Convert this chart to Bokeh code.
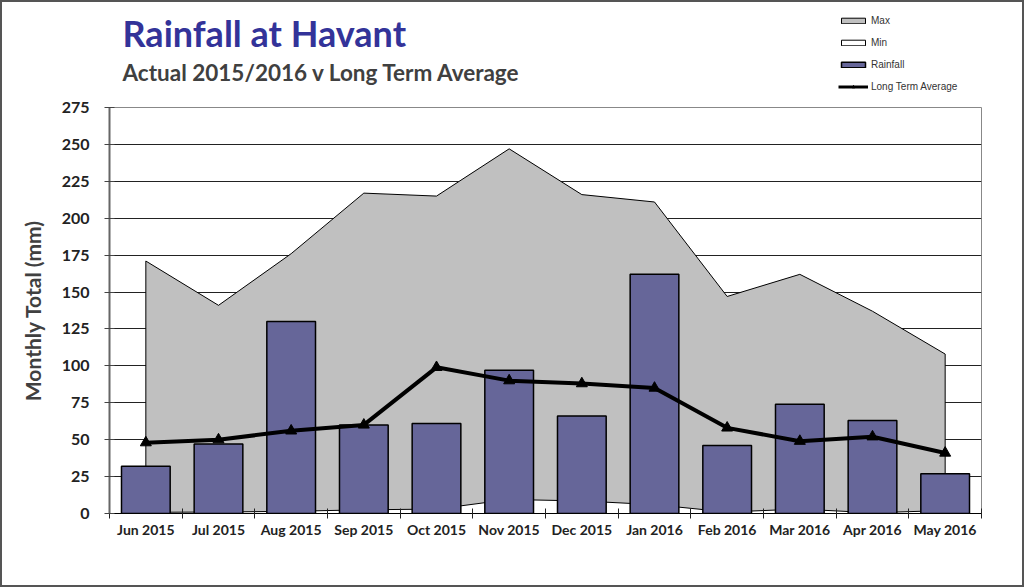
from bokeh.plotting import figure
from bokeh.models import (Range1d, FixedTicker, Legend, LegendItem, Label)
from bokeh.layouts import column
from bokeh.embed import file_html
from bokeh.resources import INLINE

months = ["Jun 2015", "Jul 2015", "Aug 2015", "Sep 2015", "Oct 2015", "Nov 2015",
          "Dec 2015", "Jan 2016", "Feb 2016", "Mar 2016", "Apr 2016", "May 2016"]
max_vals = [171, 141, 176, 217, 215, 247, 216, 211, 147, 162, 137, 108]
min_vals = [0.8, 1, 1.5, 2.5, 3, 9.5, 8.5, 6, 1, 3, 0.5, 2]
rainfall = [32, 47, 130, 60, 61, 97, 66, 162, 46, 74, 63, 27]
lta = [48, 50, 56, 60, 99, 90, 88, 85, 58, 49, 52, 41]
y_ticks = list(range(0, 276, 25))

n = len(months)
xc = [i + 0.5 for i in range(n)]
bounds = [float(i) for i in range(n + 1)]

FONT = "Lato"
BORDER = "2px solid #555555"
HEAD_H = 92
LEFT = 107   # frame left edge (shared by both figures in the column)

MAX_STYLE = dict(fill_color="#C0C0C0", line_color="black", line_width=1)
MIN_STYLE = dict(fill_color="white", line_color="black", line_width=1)
BAR_STYLE = dict(fill_color="#666699", line_color="black", line_width=1.5)

# ---------------- header (title, subtitle, legend) ----------------
h = figure(width=1024, height=HEAD_H, output_backend="svg", toolbar_location=None,
           x_range=Range1d(0, 1), y_range=Range1d(0, 1),
           x_axis_location=None, y_axis_location=None,
           min_border=0, outline_line_color=None, background_fill_color="white",
           border_fill_color="white")
h.grid.visible = False

h.add_layout(Label(x=13, y=62, x_units="screen", y_units="screen",
                   text="Rainfall at Havant", text_font=FONT,
                   text_font_style="bold", text_font_size="36px",
                   text_color="#333399", text_baseline="alphabetic"))
h.add_layout(Label(x=13, y=22, x_units="screen", y_units="screen",
                   text="Actual 2015/2016 v Long Term Average",
                   text_font=FONT, text_font_style="bold", text_font_size="22.5px",
                   text_color="#404040", text_baseline="alphabetic"))

# legend proxies (kept outside the visible header range)
off = [-100, -90, -90]
lg_max = h.patch(off, off, **MAX_STYLE)
lg_min = h.patch(off, off, **MIN_STYLE)
lg_bar = h.vbar(x=off[:1], top=off[:1], width=1, **BAR_STYLE)
lg_line = h.line(off[:2], off[:2], line_color="black", line_width=3)
lg_mark = h.scatter(off[:1], off[:1], marker="triangle", size=8,
                    fill_color="black", line_color="black")

legend = Legend(items=[
    LegendItem(label="Max", renderers=[lg_max]),
    LegendItem(label="Min", renderers=[lg_min]),
    LegendItem(label="Rainfall", renderers=[lg_bar]),
    LegendItem(label="Long Term Average", renderers=[lg_line, lg_mark]),
], location=(836 - LEFT, 2), orientation="vertical", padding=0, margin=0,
    glyph_width=30, glyph_height=7, label_height=12, spacing=10,
    label_standoff=3, label_text_font="Liberation Sans",
    label_text_font_size="10px", label_text_color="#333333",
    border_line_color=None, background_fill_alpha=0)
h.add_layout(legend)
h.styles = {"border-top": BORDER, "border-left": BORDER, "border-right": BORDER,
            "box-sizing": "border-box"}

# ---------------- main chart ----------------
p = figure(width=1024, height=587 - HEAD_H, output_backend="svg",
           toolbar_location=None, x_range=Range1d(0, n), y_range=Range1d(0, 275),
           min_border_left=LEFT, min_border_right=45, min_border_top=15,
           min_border_bottom=74, background_fill_color="white",
           border_fill_color="white", outline_line_color="#888888")

p.patch(xc + [xc[-1], xc[0]], max_vals + [0, 0], **MAX_STYLE)
p.patch(xc + [xc[-1], xc[0]], min_vals + [0, 0], **MIN_STYLE)
p.vbar(x=xc, top=rainfall, width=0.67, **BAR_STYLE)
p.line(xc, lta, line_color="black", line_width=4)
p.scatter(xc, lta, marker="triangle", size=11, fill_color="black",
          line_color="black")

p.yaxis.ticker = FixedTicker(ticks=y_ticks)
p.yaxis.major_tick_in = 5
p.yaxis.major_tick_out = 5
p.yaxis.minor_tick_line_color = None
p.yaxis.axis_line_color = "#666666"
p.yaxis.axis_line_width = 2
p.yaxis.major_tick_line_color = "#444444"
p.yaxis.major_label_text_font = FONT
p.yaxis.major_label_text_font_style = "bold"
p.yaxis.major_label_text_font_size = "16px"
p.yaxis.major_label_text_color = "#222222"
p.yaxis.major_label_standoff = 15
p.yaxis.axis_label = "Monthly Total (mm)"
p.yaxis.axis_label_text_font = FONT
p.yaxis.axis_label_text_font_style = "bold"
p.yaxis.axis_label_text_font_size = "21px"
p.yaxis.axis_label_text_color = "#404040"
p.yaxis.axis_label_standoff = 14

p.xaxis.ticker = FixedTicker(ticks=xc, minor_ticks=bounds)
p.xaxis.major_label_overrides = {x: m for x, m in zip(xc, months)}
p.xaxis.major_tick_in = 0
p.xaxis.major_tick_out = 0
p.xaxis.major_tick_line_color = None
p.xaxis.minor_tick_in = 5
p.xaxis.minor_tick_out = 5
p.xaxis.minor_tick_line_color = "#222222"
p.xaxis.axis_line_color = "black"
p.xaxis.major_label_text_font = FONT
p.xaxis.major_label_text_font_style = "bold"
p.xaxis.major_label_text_font_size = "14px"
p.xaxis.major_label_text_color = "#222222"
p.xaxis.major_label_standoff = 2

p.xgrid.grid_line_color = None
p.ygrid.ticker = FixedTicker(ticks=y_ticks)
p.ygrid.grid_line_color = "#222222"
p.ygrid.grid_line_width = 1
p.styles = {"border-bottom": BORDER, "border-left": BORDER,
            "border-right": BORDER, "box-sizing": "border-box"}

layout = column(h, p, spacing=0)
open("out.html", "w").write(file_html(layout, INLINE))
